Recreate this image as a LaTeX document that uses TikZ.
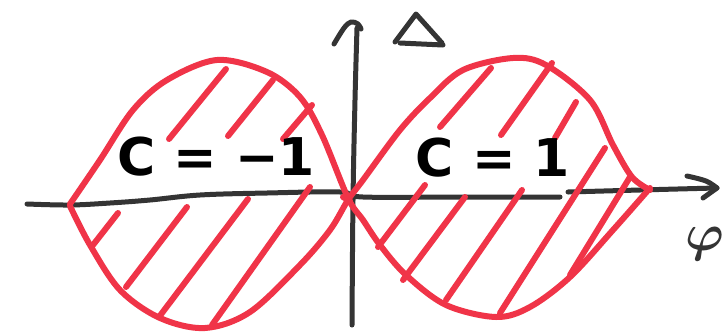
\documentclass[tikz,border=0pt]{standalone}
\usepackage{amsmath,amssymb,bm}
\usepackage{fontspec}
\newfontfamily\handfont{DejaVu Sans}
\definecolor{sred}{RGB}{240,52,72}
\definecolor{sgray}{RGB}{52,52,52}
\begin{document}
\begin{tikzpicture}[x=1pt,y=-1pt,
  redline/.style={draw=sred,line width=6pt,line cap=round,line join=round},
  axisline/.style={draw=sgray,line width=5pt,line cap=round,line join=round},
  hatch/.style={draw=sred,line width=6pt,line cap=round},
  lbl/.style={text=black,font=\handfont\bfseries\fontsize{52}{56}\selectfont,inner sep=0pt}]
\useasboundingbox[fill=white] (0,0) rectangle (726,333);
% axes
\draw[axisline] plot[smooth,tension=0.6] coordinates {(27,204) (70,205) (110,203) (150,200) (200,195) (267,193) (340,192) (363,197) (463,197) (560,197)};
\draw[axisline] plot[smooth,tension=0.6] coordinates {(568,192) (640,190) (716,188)};
\draw[axisline] plot[smooth,tension=0.6] coordinates {(687,176) (706,181) (717,188)};
\draw[axisline] (717,188) -- (703,198);
\draw[axisline] plot[smooth,tension=0.6] coordinates {(352,325) (353,200) (355,100) (357,28)};
\draw[axisline] plot[smooth,tension=0.6] coordinates {(334,44) (344,28) (351,22) (358,24) (361,29)};
% Delta
\draw[axisline] (395,42) -- (416,14) -- (442,43);
\draw[axisline] (400,43) -- (443,45);
% red curves
\draw[redline] plot[smooth,tension=0.55] coordinates {(70,204) (100,160) (133,110) (167,80) (217,60) (267,72) (300,97) (322,135) (348,198) (363,220) (380,245) (406,275) (446,305) (496,317) (530,307) (570,277) (613,230) (650,188)};
\draw[redline] plot[smooth,tension=0.55] coordinates {(70,206) (90,245) (120,290) (160,318) (205,328) (250,312) (300,265) (330,230) (348,200) (363,180) (400,130) (430,98) (463,70) (513,58) (546,65) (590,100) (613,145) (632,177) (650,190)};
% hatching left
\draw[hatch] (226,69) -- (169,139);
\draw[hatch] (273,80) -- (228,136);
\draw[hatch] (312,105) -- (283,139);
\draw[hatch] (310,187) -- (212,325);
\draw[hatch] (248,199) -- (159,317);
\draw[hatch] (187,207) -- (126,287);
\draw[hatch] (118,213) -- (93,245);
\draw[hatch] (343,197) -- (350,201);
% hatching right
\draw[hatch] (491,68) -- (440,127);
\draw[hatch] (552,63) -- (501,135);
\draw[hatch] (576,102) -- (555,138);
\draw[hatch] (425,185) -- (378,247);
\draw[hatch] (465,197) -- (403,280);
\draw[hatch] (522,190) -- (446,300);
\draw[hatch] (605,148) -- (500,313);
\draw[hatch] (630,177) -- (570,275);
% labels
\node[lbl] (cm) at (216,157) {C = −1};
\node[lbl] (cp) at (493,158) {C = 1};
\node[text=sgray,inner sep=0pt] (phi) at (705,244) {\scalebox{5.2}{$\bm{\varphi}$}};
\end{tikzpicture}
\end{document}
